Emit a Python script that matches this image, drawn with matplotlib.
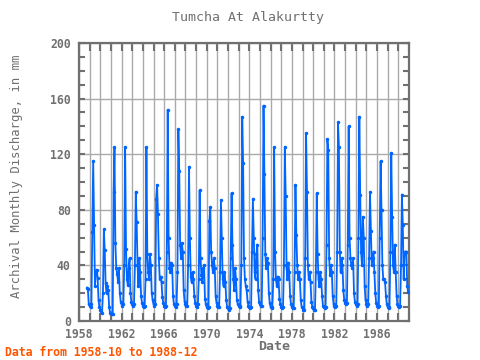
import numpy as np
import matplotlib.pyplot as plt
from matplotlib.ticker import MultipleLocator, FixedLocator

# monthly discharge (mm), 1958-10 .. 1988-12
start_year = 1958
start_month = 10
d1958 = [24, 23, 12]
d1959 = [11, 10, 12, 64, 115, 69, 25, 35, 37, 31, 15, 10]
d1960 = [8, 7, 6, 20, 66, 51, 27, 20, 25, 22, 10, 6]
d1961 = [6, 5, 5, 93, 125, 56, 38, 34, 28, 38, 20, 14]
d1962 = [12, 11, 12, 40, 125, 52, 30, 26, 38, 45, 20, 14]
d1963 = [12, 11, 12, 40, 93, 71, 40, 25, 45, 35, 18, 13]
d1964 = [11, 10, 11, 30, 125, 48, 35, 30, 48, 40, 20, 15]
d1965 = [12, 11, 12, 88, 98, 77, 45, 30, 32, 28, 17, 13]
d1966 = [11, 10, 11, 50, 152, 60, 38, 35, 42, 40, 18, 12]
d1967 = [11, 10, 12, 35, 138, 108, 55, 45, 56, 50, 22, 14]
d1968 = [12, 11, 11, 40, 111, 60, 32, 28, 35, 30, 18, 13]
d1969 = [11, 10, 12, 30, 94, 45, 33, 28, 38, 40, 16, 12]
d1970 = [10, 9, 10, 72, 82, 50, 40, 35, 45, 38, 18, 13]
d1971 = [11, 10, 10, 35, 87, 60, 30, 25, 35, 28, 15, 10]
d1972 = [9, 8, 9, 45, 92, 55, 30, 22, 38, 30, 15, 12]
d1973 = [11, 10, 11, 40, 147, 114, 45, 30, 25, 22, 14, 11]
d1974 = [10, 9, 10, 50, 88, 60, 35, 30, 48, 55, 22, 14]
d1975 = [12, 11, 11, 60, 155, 106, 48, 38, 45, 42, 20, 13]
d1976 = [10, 9, 10, 30, 125, 50, 30, 25, 32, 30, 16, 12]
d1977 = [10, 9, 10, 40, 125, 90, 38, 30, 42, 35, 18, 12]
d1978 = [10, 9, 9, 35, 98, 62, 40, 30, 35, 30, 15, 10]
d1979 = [9, 8, 8, 45, 135, 93, 40, 30, 35, 28, 14, 10]
d1980 = [9, 8, 8, 35, 92, 48, 30, 25, 35, 30, 18, 11]
d1981 = [10, 9, 10, 55, 131, 123, 45, 33, 40, 35, 18, 12]
d1982 = [11, 10, 11, 50, 143, 125, 50, 35, 45, 40, 22, 15]
d1983 = [13, 12, 13, 55, 140, 60, 45, 40, 38, 45, 20, 14]
d1984 = [12, 11, 12, 60, 147, 91, 50, 40, 75, 60, 25, 15]
d1985 = [12, 11, 12, 45, 93, 65, 40, 45, 50, 35, 20, 13]
d1986 = [11, 10, 11, 60, 115, 80, 40, 30, 30, 28, 18, 12]
d1987 = [10, 9, 10, 50, 121, 75, 40, 35, 55, 35, 18, 12]
d1988 = [11, 10, 11, 40, 91, 69, 30, 48, 50, 50, 25, 21]

values = (d1958 + d1959 + d1960 + d1961 + d1962 + d1963 + d1964 + d1965
          + d1966 + d1967 + d1968 + d1969 + d1970 + d1971 + d1972 + d1973
          + d1974 + d1975 + d1976 + d1977 + d1978 + d1979 + d1980 + d1981
          + d1982 + d1983 + d1984 + d1985 + d1986 + d1987 + d1988)
dates = start_year + (start_month - 1 + np.arange(len(values))) / 12.0

year_labels = list(range(1958, 1989, 4))

grey = '#707070'
mono = 'DejaVu Sans Mono'

fig = plt.figure(figsize=(4.8, 3.6), dpi=100)
ax = fig.add_axes([79 / 480, 39 / 360, 330 / 480, 278 / 360])

ax.plot(dates, values, color='#0066ff', lw=1.3, marker='o', ms=1.5,
        zorder=3)

ax.set_xlim(1958, 1989)
ax.set_ylim(0, 200)
ax.xaxis.set_major_locator(FixedLocator(year_labels))
ax.xaxis.set_minor_locator(MultipleLocator(1))
ax.yaxis.set_major_locator(MultipleLocator(40))
ax.yaxis.set_minor_locator(MultipleLocator(10))
ax.grid(True, which='major', axis='y', color='#aaaaaa', lw=1)
ax.grid(True, which='both', axis='x', color='#aaaaaa', lw=1)

ax.tick_params(axis='x', which='both', direction='in', top=True,
               length=6, width=1.5, color=grey, labelcolor=grey,
               labelsize=8.3, pad=5)
ax.tick_params(axis='y', which='both', direction='in', right=True,
               length=4, width=1.5, color=grey, labelcolor=grey,
               labelsize=8.3, pad=6)
for lab in ax.get_xticklabels() + ax.get_yticklabels():
    lab.set_family(mono)
    lab.set_weight('bold')
# the "0" label sits a little above the bottom edge, as in the reference
ax.yaxis.get_major_ticks()[0].label1.set_verticalalignment('bottom')
for sp in ax.spines.values():
    sp.set_color(grey)
    sp.set_linewidth(1.6)

fig.text(248 / 480, 1 - 17 / 360, 'Tumcha At Alakurtty', ha='center',
         va='center', family=mono, fontsize=9.5, color=grey)
fig.text(17 / 480, 0.5 + 4 / 360, 'Archival Monthly Discharge, in mm',
         rotation=90, ha='center', va='center', family=mono, fontsize=8.8,
         color=grey)
fig.text(274 / 480, 1 - 347 / 360, 'Date', ha='center', va='center',
         family=mono, fontsize=9.5, weight='bold', color=grey)
fig.text(5 / 480, 1 - 352 / 360, 'Data from 1958-10 to 1988-12', ha='left',
         va='center', family=mono, fontsize=8.3, weight='bold',
         color='#ff5500')

fig.savefig('out.png', dpi=100)
